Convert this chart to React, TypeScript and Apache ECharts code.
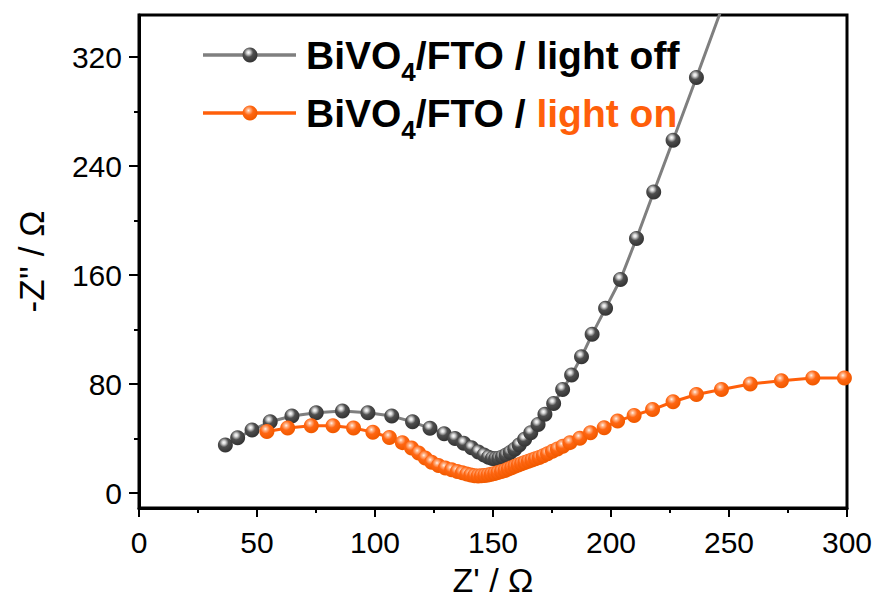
import { useEffect, useRef } from "react";
import * as echarts from "echarts";

// Nyquist data: [Z' (Ω), -Z'' (Ω)]
const lightOff: [number, number][] = [
  [36.6, 35.2], [41.8, 40.6], [47.9, 46.2], [55.6, 52.3], [64.8, 56.5], [75.1, 58.9],
  [86.2, 60.2], [97.0, 58.9], [107.1, 56.5], [115.9, 52.3], [123.3, 47.5], [129.3, 43.6],
  [133.9, 40.1], [137.6, 36.6], [140.9, 33.2], [143.8, 30.2], [146.2, 27.9], [148.1, 26.3],
  [149.7, 25.4], [151.1, 25.1], [152.5, 25.5], [154.0, 26.5], [155.6, 27.9], [157.3, 29.8],
  [159.2, 32.2], [161.1, 35.2], [163.4, 39.4], [166.0, 44.3], [169.1, 50.4], [172.0, 57.8],
  [175.7, 65.8], [179.5, 76.1], [183.3, 86.6], [187.5, 100.0], [192.0, 116.5], [197.7, 135.6],
  [204.0, 156.8], [210.8, 186.9], [218.1, 221.1], [226.3, 259.1], [236.2, 305.1], [247.8, 360.0],
];

const lightOn: [number, number][] = [
  [54.2, 45.2], [63.0, 47.7], [73.0, 49.4], [82.2, 49.4], [90.9, 47.7], [99.1, 44.7],
  [106.1, 40.8], [111.6, 37.0], [115.5, 33.0], [118.5, 29.3], [121.3, 25.8], [124.0, 22.6],
  [126.9, 20.2], [129.8, 18.4], [132.5, 17.0], [134.9, 15.8], [137.0, 14.8], [138.9, 13.9],
  [140.6, 13.2], [142.2, 12.7], [143.7, 12.5], [145.1, 12.6], [146.5, 12.9], [147.9, 13.3],
  [149.3, 13.8], [150.7, 14.4], [152.1, 15.0], [153.6, 15.8], [155.1, 16.6], [156.5, 17.6],
  [157.9, 18.6], [159.3, 19.6], [160.7, 20.6], [162.1, 21.5], [163.5, 22.4], [165.0, 23.3],
  [166.5, 24.2], [168.0, 25.1], [169.6, 26.1], [171.3, 27.4], [173.1, 28.8], [175.2, 30.6],
  [177.3, 32.4], [179.6, 34.4], [182.6, 37.0], [186.8, 40.2], [191.3, 44.3], [197.1, 48.0],
  [202.8, 52.8], [209.8, 57.0], [217.6, 61.3], [226.3, 67.0], [236.2, 72.3], [246.8, 76.0],
  [259.0, 80.0], [272.2, 82.5], [285.5, 84.5], [298.9, 84.5],
];

const yLabelValues = [0, 80, 160, 240, 320];
const yMinorValues = [40, 120, 200, 280];

const FONT = '"Liberation Sans", Arial, Helvetica, sans-serif';
const GREY_LINE = "#7f7f7f";
const ORANGE = "#ff5f0a";

const greyBall = {
  type: "radial", x: 0.4, y: 0.33, r: 0.62,
  colorStops: [
    { offset: 0, color: "#ffffff" },
    { offset: 0.18, color: "#d8d8d8" },
    { offset: 0.5, color: "#4e4e4e" },
    { offset: 1, color: "#363636" },
  ],
};
const orangeBall = {
  type: "radial", x: 0.4, y: 0.33, r: 0.62,
  colorStops: [
    { offset: 0, color: "#fff4ee" },
    { offset: 0.18, color: "#ffb68c" },
    { offset: 0.5, color: "#ff6612" },
    { offset: 1, color: "#f25a00" },
  ],
};

export default function App() {
  const ref = useRef<HTMLDivElement>(null);

  useEffect(() => {
    if (!ref.current) return;
    const chart = echarts.init(ref.current, null, { renderer: "svg" });

    const ctx = document.createElement("canvas").getContext("2d")!;
    const measure = (t: string, font: string) => {
      ctx.font = font;
      return ctx.measureText(t).width;
    };
    const bigFont = `bold 39px ${FONT}`;
    const subFont = `bold 26px ${FONT}`;
    const wBiVO = measure("BiVO", bigFont);
    const wSub = measure("4", subFont);
    const wMid = measure("/FTO / ", bigFont);

    const textX = 306;
    const legendRow = (y: number, lineColor: string, ballFill: any, tail: string, tailColor: string) => [
      { type: "line", shape: { x1: 203, y1: y, x2: 296, y2: y }, style: { stroke: lineColor, lineWidth: 3.5 }, z: 10 },
      { type: "circle", shape: { cx: 250, cy: y, r: 7.5 }, style: { fill: ballFill }, z: 11 },
      { type: "text", x: textX, y, style: { text: "BiVO", font: bigFont, fill: "#000", textVerticalAlign: "middle", verticalAlign: "middle" }, z: 11 },
      { type: "text", x: textX + wBiVO, y: y + 17, style: { text: "4", font: subFont, fill: "#000", textVerticalAlign: "middle", verticalAlign: "middle" }, z: 11 },
      { type: "text", x: textX + wBiVO + wSub, y, style: { text: "/FTO / ", font: bigFont, fill: "#000", textVerticalAlign: "middle", verticalAlign: "middle" }, z: 11 },
      { type: "text", x: textX + wBiVO + wSub + wMid, y, style: { text: tail, font: bigFont, fill: tailColor, textVerticalAlign: "middle", verticalAlign: "middle" }, z: 11 },
    ];

    const axisLine = { show: true, onZero: false, lineStyle: { color: "#000", width: 3 } };

    chart.setOption({
      animation: false,
      backgroundColor: "#fff",
      grid: {
        left: 139, right: 28, top: 15, bottom: 93,
        outerBoundsMode: "none", containLabel: false,
        show: true, borderColor: "#000", borderWidth: 3,
      },
      xAxis: [
        {
          type: "value", min: 0, max: 300, interval: 50,
          axisLine,
          axisTick: { show: true, length: 9, lineStyle: { color: "#000", width: 2 } },
          minorTick: { show: true, splitNumber: 2, length: 5, lineStyle: { color: "#000", width: 2 } },
          axisLabel: { color: "#000", fontSize: 30, fontFamily: FONT, margin: 19 },
          splitLine: { show: false },
          name: "Z' / Ω", nameLocation: "middle", nameGap: 55,
          nameTextStyle: { color: "#000", fontSize: 34, fontFamily: FONT },
        },
      ],
      yAxis: [
        {
          type: "value", min: -11, max: 351,
          axisLine,
          axisTick: { show: true, length: 10, customValues: yLabelValues, lineStyle: { color: "#000", width: 2 } },
          axisLabel: { color: "#000", fontSize: 30, fontFamily: FONT, margin: 17, customValues: yLabelValues },
          splitLine: { show: false },
          name: "-Z'' / Ω", nameLocation: "middle", nameGap: 90,
          nameTextStyle: { color: "#000", fontSize: 35, fontFamily: FONT },
        },
        {
          type: "value", min: -11, max: 351, position: "left",
          axisLine: { show: false },
          axisTick: { show: true, length: 5, customValues: yMinorValues, lineStyle: { color: "#000", width: 2 } },
          axisLabel: { show: false },
          splitLine: { show: false },
        },
      ],
      series: [
        {
          type: "line", name: "BiVO4/FTO / light off", data: lightOff,
          symbol: "circle", symbolSize: 15, clip: true,
          lineStyle: { color: GREY_LINE, width: 3 },
          itemStyle: { color: greyBall as any, borderWidth: 0 },
          z: 3,
        },
        {
          type: "line", name: "BiVO4/FTO / light on", data: lightOn,
          symbol: "circle", symbolSize: 15, clip: true,
          lineStyle: { color: ORANGE, width: 3 },
          itemStyle: { color: orangeBall as any, borderWidth: 0 },
          z: 4,
        },
      ],
      graphic: [
        ...legendRow(55, GREY_LINE, greyBall, "light off", "#000"),
        ...legendRow(113, ORANGE, orangeBall, "light on", ORANGE),
      ],
    });

    return () => chart.dispose();
  }, []);

  return <div ref={ref} style={{ position: "fixed", left: 0, top: 0, width: 875, height: 601 }} />;
}
